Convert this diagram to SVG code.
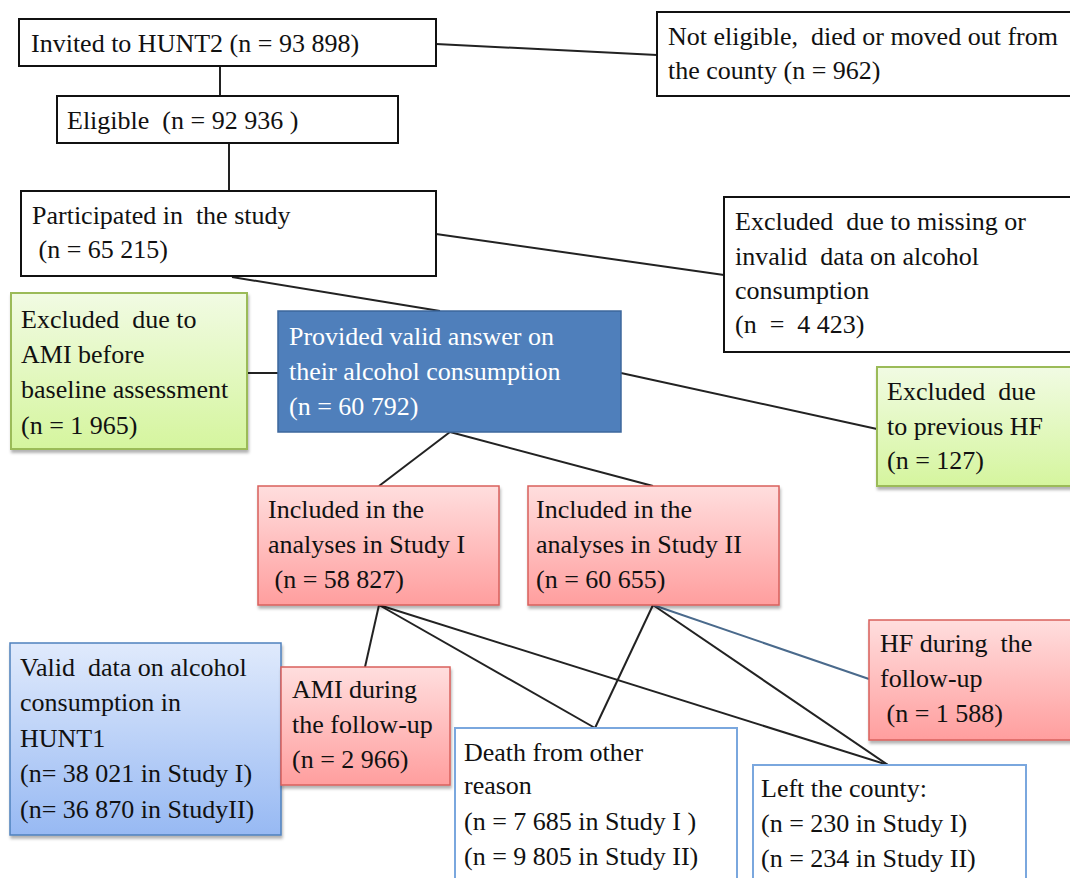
<svg xmlns="http://www.w3.org/2000/svg" width="1070" height="878" viewBox="0 0 1070 878" xml:space="preserve">
<style>
text{font-family:"Liberation Serif","Times New Roman",serif;font-size:26px;fill:#111;white-space:pre;}
.wt{fill:#fff;}
.plain{fill:#fff;stroke:#111;stroke-width:2;}
.bluel{fill:#fff;stroke:#7aa7de;stroke-width:2;}
.green{fill:url(#gGreen);stroke:#9bbb59;stroke-width:2;filter:url(#sh);}
.pink{fill:url(#gPink);stroke:#d9605c;stroke-width:1.5;filter:url(#sh);}
.lblue{fill:url(#gBlue);stroke:#4f81bd;stroke-width:1.5;filter:url(#sh);}
.dblue{fill:#4f7fbb;stroke:#3d679c;stroke-width:1.5;}
.con line{stroke:#222;stroke-width:2;}
</style>
<defs>
<linearGradient id="gGreen" x1="0" y1="0" x2="0" y2="1"><stop offset="0" stop-color="#f1fbe3"/><stop offset="1" stop-color="#d5f59e"/></linearGradient>
<linearGradient id="gPink" x1="0" y1="0" x2="0" y2="1"><stop offset="0" stop-color="#ffdede"/><stop offset="1" stop-color="#ff9e9e"/></linearGradient>
<linearGradient id="gBlue" x1="0" y1="0" x2="0" y2="1"><stop offset="0" stop-color="#e0eafc"/><stop offset="1" stop-color="#97b9f3"/></linearGradient>
<filter id="sh" x="-5%" y="-5%" width="115%" height="120%"><feDropShadow dx="1" dy="3" stdDeviation="1.5" flood-color="#000" flood-opacity="0.3"/></filter>
</defs>
<g class="con">
<line x1="220" y1="66" x2="220" y2="96"/>
<line x1="229" y1="143" x2="229" y2="191"/>
<line x1="436" y1="44" x2="657" y2="55"/>
<line x1="436" y1="234" x2="724" y2="275"/>
<line x1="232" y1="277" x2="440" y2="311"/>
<line x1="247" y1="373" x2="278" y2="373"/>
<line x1="621" y1="373" x2="877" y2="429"/>
<line x1="450" y1="432" x2="379" y2="486"/>
<line x1="450" y1="432" x2="653" y2="486"/>
<line x1="379" y1="605" x2="365" y2="667"/>
<line x1="379" y1="605" x2="595" y2="728"/>
<line x1="379" y1="605" x2="888" y2="765"/>
<line x1="653" y1="605" x2="595" y2="728"/>
<line x1="653" y1="605" x2="888" y2="765"/>
<line x1="653" y1="605" x2="869" y2="679" style="stroke:#4a6a8c"/>
</g>
<g id="invited"><rect class="plain" x="19" y="19" width="417" height="47"/><text x="31" y="52">Invited to HUNT2 (n = 93 898)</text></g>
<g id="noteligible"><rect class="plain" x="657" y="12" width="416" height="84"/><text x="668" y="45">Not eligible,  died or moved out from</text><text x="668" y="79">the county (n = 962)</text></g>
<g id="eligible"><rect class="plain" x="57" y="96" width="341" height="47"/><text x="67" y="129">Eligible  (n = 92 936 )</text></g>
<g id="participated"><rect class="plain" x="21" y="191" width="415" height="85"/><text x="32" y="224">Participated in  the study</text><text x="32" y="258"> (n = 65 215)</text></g>
<g id="excludedmissing"><rect class="plain" x="724" y="197" width="349" height="155"/><text x="735" y="230">Excluded  due to missing or</text><text x="735" y="265">invalid  data on alcohol</text><text x="735" y="299">consumption</text><text x="735" y="333">(n  =  4 423)</text></g>
<g id="amibefore"><rect class="green" x="11" y="293" width="236" height="156"/><text x="21" y="328">Excluded  due to</text><text x="21" y="363">AMI before</text><text x="21" y="398">baseline assessment</text><text x="21" y="434">(n = 1 965)</text></g>
<g id="provided"><rect class="dblue" x="278" y="311" width="343" height="121"/><text class="wt" x="289" y="345">Provided valid answer on</text><text class="wt" x="289" y="380">their alcohol consumption</text><text class="wt" x="289" y="415">(n = 60 792)</text></g>
<g id="prevhf"><rect class="green" x="877" y="367" width="196" height="119"/><text x="887" y="400">Excluded  due</text><text x="887" y="435">to previous HF</text><text x="887" y="469">(n = 127)</text></g>
<g id="study1"><rect class="pink" x="258" y="486" width="241" height="119"/><text x="268" y="518">Included in the</text><text x="268" y="553">analyses in Study I</text><text x="268" y="588"> (n = 58 827)</text></g>
<g id="study2"><rect class="pink" x="528" y="486" width="251" height="119"/><text x="536" y="518">Included in the</text><text x="536" y="553">analyses in Study II</text><text x="536" y="588">(n = 60 655)</text></g>
<g id="hunt1"><rect class="lblue" x="10" y="643" width="271" height="192"/><text x="20" y="676">Valid  data on alcohol</text><text x="20" y="711">consumption in</text><text x="20" y="747">HUNT1</text><text x="20" y="782">(n= 38 021 in Study I)</text><text x="20" y="818">(n= 36 870 in StudyII)</text></g>
<g id="amiduring"><rect class="pink" x="281" y="667" width="169" height="118"/><text x="292" y="698">AMI during</text><text x="292" y="733">the follow-up</text><text x="292" y="768">(n = 2 966)</text></g>
<g id="hfduring"><rect class="pink" x="869" y="620" width="205" height="120"/><text x="880" y="652">HF during  the</text><text x="880" y="687">follow-up</text><text x="880" y="722"> (n = 1 588)</text></g>
<g id="death"><rect class="bluel" x="455" y="728" width="282" height="160"/><text x="464" y="761">Death from other</text><text x="464" y="794">reason</text><text x="464" y="830">(n = 7 685 in Study I )</text><text x="464" y="865">(n = 9 805 in Study II)</text></g>
<g id="leftcounty"><rect class="bluel" x="753" y="765" width="273" height="123"/><text x="761" y="797">Left the county:</text><text x="761" y="832">(n = 230 in Study I)</text><text x="761" y="867">(n = 234 in Study II)</text></g>
</svg>
